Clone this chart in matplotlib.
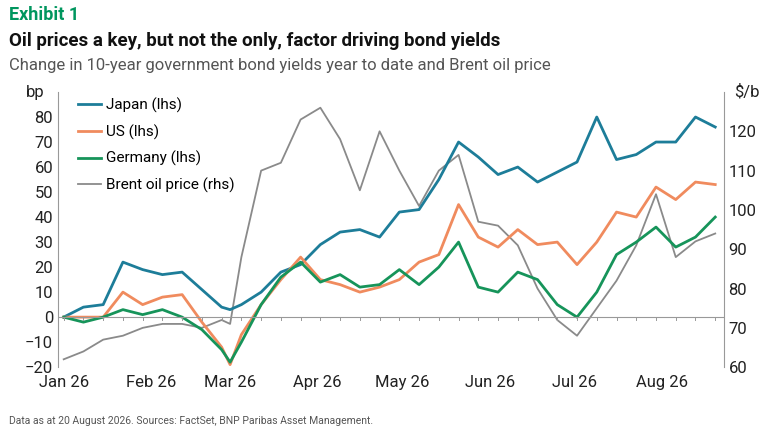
import matplotlib
matplotlib.use("Agg")
import matplotlib.pyplot as plt
import matplotlib.transforms as mtransforms
import pandas as pd

plt.rcParams['font.family'] = ['Roboto', 'DejaVu Sans']

dates = list(pd.date_range("2026-01-01", periods=34, freq="7D"))
dates.insert(9, pd.Timestamp("2026-03-01"))

japan = [0, 4, 5, 22, 19, 17, 18, 11, 4, 3, 5, 10, 18, 21, 29, 34, 35, 32, 42, 43, 55, 70, 64, 57,
         60, 54, 58, 62, 80, 63, 65, 70, 70, 80, 76]
us = [0, 0, 0, 10, 5, 8, 9, -2, -12, -19, -7, 5, 15, 24, 15, 13, 10, 12, 15, 22, 25, 45, 32, 28,
      35, 29, 30, 21, 30, 42, 40, 52, 47, 54, 53]
germany = [0, -2, 0, 3, 1, 3, 0, -5, -13, -18, -10, 5, 16, 22, 14, 17, 12, 13, 19, 13, 20, 30, 12,
           10, 18, 15, 5, 0, 10, 25, 30, 36, 28, 32, 40]
brent = [62, 64, 67, 68, 70, 71, 71, 70, 72, 71, 88, 110, 112, 123, 126, 118, 105, 120, 110, 101,
         110, 114, 97, 96, 91, 80, 72, 68, 75, 82, 91, 104, 88, 92, 94]

month_ticks = pd.date_range("2026-01-01", periods=8, freq="MS")
month_labels = ["Jan 26", "Feb 26", "Mar 26", "Apr 26", "May 26", "Jun 26", "Jul 26", "Aug 26"]

fig = plt.figure(figsize=(7.74, 4.34), dpi=100)
ax = fig.add_axes([0.075, 0.154, 0.86, 0.634])
ax2 = ax.twinx()

ax2.plot(dates, brent, color="#8a8a8a", lw=1.3, label="Brent oil price (rhs)")
ax.plot(dates, japan, color="#1d7d99", lw=2, label="Japan (lhs)")
ax.plot(dates, us, color="#f08b5e", lw=2, label="US (lhs)")
ax.plot(dates, germany, color="#16945a", lw=2, label="Germany (lhs)")
ax.set_zorder(ax2.get_zorder() + 1)
ax.patch.set_visible(False)

ax.set_ylim(-20, 90)
ax.set_yticks(range(-20, 81, 10))
ax2.set_ylim(60, 130)
ax2.set_yticks(range(60, 121, 10))
ax.set_xlim(pd.Timestamp("2025-12-30"), pd.Timestamp("2026-08-23"))

for a in (ax, ax2):
    for s in ("top", "bottom"):
        a.spines[s].set_visible(False)
    a.tick_params(axis="y", length=0, labelsize=12, colors="#222222")
ax.spines["left"].set_color("#999999")
ax.spines["right"].set_visible(False)
ax2.spines["left"].set_visible(False)
ax2.spines["right"].set_color("#999999")

ax.axhline(0, color="#999999", lw=0.8)
ax.set_xticks(month_ticks)
ax.set_xticklabels(month_labels)
ax.tick_params(axis="x", length=0, labelsize=12, colors="#222222", pad=6)
trans = mtransforms.blended_transform_factory(ax.transData, ax.transData)
for d in pd.date_range("2026-01-01", "2026-08-20", freq="7D"):
    ax.plot([d, d], [0, -1.2], color="#999999", lw=0.7, transform=trans)

ax.text(-0.02, 1.0, "bp", transform=ax.transAxes, ha="right", va="center", fontsize=12, color="#222222")
ax2.text(1.015, 1.0, "$/b", transform=ax.transAxes, ha="left", va="center", fontsize=12, color="#222222")

h1, l1 = ax.get_legend_handles_labels()
h2, l2 = ax2.get_legend_handles_labels()
ax.legend(h1 + h2, l1 + l2, loc="upper left", bbox_to_anchor=(0.01, 1.03), frameon=False,
          fontsize=11, handlelength=1.5, handletextpad=0.3, labelspacing=0.75)

fig.text(0.012, 0.965, "Exhibit 1", fontsize=13, fontweight="bold", color="#00965e", va="center")
fig.text(0.012, 0.905, "Oil prices a key, but not the only, factor driving bond yields", fontsize=13.5,
         fontweight="bold", color="#111111", va="center")
fig.text(0.012, 0.85, "Change in 10-year government bond yields year to date and Brent oil price",
         fontsize=12, color="#555555", va="center")
fig.text(0.012, 0.03, "Data as at 20 August 2026. Sources: FactSet, BNP Paribas Asset Management.",
         fontsize=7.5, color="#555555", va="center")

fig.savefig("out.png", dpi=100)
